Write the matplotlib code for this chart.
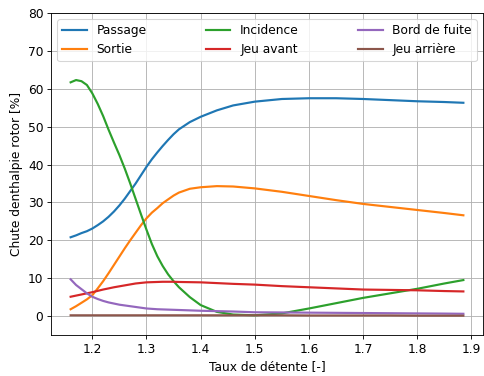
import matplotlib
matplotlib.use("Agg")
import matplotlib.pyplot as plt

plt.rcParams["font.size"] = 11.3

# pressure ratio samples
taux = [1.16, 1.17, 1.18, 1.19, 1.20, 1.21, 1.22, 1.23, 1.24, 1.25, 1.26, 1.27,
        1.28, 1.29, 1.30, 1.31, 1.32, 1.33, 1.34, 1.35, 1.36, 1.38, 1.40, 1.43,
        1.46, 1.50, 1.55, 1.60, 1.65, 1.70, 1.75, 1.80, 1.85, 1.885]

passage = [20.8, 21.3, 21.9, 22.4, 23.1, 24.0, 25.0, 26.2, 27.6, 29.2, 31.0, 33.0,
           35.0, 37.2, 39.4, 41.4, 43.2, 44.9, 46.5, 48.0, 49.3, 51.2, 52.6, 54.3,
           55.6, 56.6, 57.3, 57.5, 57.5, 57.3, 57.0, 56.7, 56.5, 56.3]
sortie = [1.8, 2.6, 3.5, 4.4, 5.5, 7.3, 9.2, 11.3, 13.5, 15.7, 17.9, 20.0,
          22.0, 24.0, 25.8, 27.3, 28.5, 29.8, 30.8, 31.8, 32.6, 33.6, 34.0, 34.3,
          34.2, 33.7, 32.8, 31.7, 30.6, 29.6, 28.8, 28.0, 27.2, 26.6]
incidence = [61.7, 62.3, 62.0, 61.0, 58.8, 56.0, 52.8, 49.2, 45.8, 42.5, 38.9, 35.0,
             30.9, 26.8, 22.8, 19.0, 15.8, 13.2, 11.0, 9.2, 7.6, 5.0, 2.9, 1.1,
             0.4, 0.2, 0.7, 2.0, 3.4, 4.8, 6.0, 7.2, 8.6, 9.5]
jeu_avant = [5.1, 5.4, 5.7, 6.0, 6.3, 6.65, 7.0, 7.3, 7.6, 7.85, 8.1, 8.35,
             8.6, 8.75, 8.9, 8.95, 9.0, 9.05, 9.05, 9.05, 9.0, 8.95, 8.9, 8.7,
             8.5, 8.3, 7.9, 7.6, 7.3, 7.0, 6.9, 6.8, 6.6, 6.5]
bord_fuite = [9.7, 8.2, 7.1, 6.0, 5.1, 4.5, 4.0, 3.6, 3.3, 3.0, 2.8, 2.6,
              2.4, 2.2, 2.0, 1.9, 1.8, 1.75, 1.7, 1.65, 1.6, 1.5, 1.4, 1.3,
              1.2, 1.0, 0.95, 0.9, 0.85, 0.8, 0.75, 0.7, 0.65, 0.6]
jeu_arriere = [0.2, 0.2, 0.2, 0.2, 0.2, 0.2, 0.2, 0.2, 0.2, 0.2, 0.2, 0.2,
               0.2, 0.2, 0.2, 0.2, 0.2, 0.2, 0.2, 0.2, 0.2, 0.2, 0.2, 0.2,
               0.2, 0.2, 0.2, 0.15, 0.15, 0.15, 0.15, 0.1, 0.1, 0.1]

series = [("Passage", passage), ("Sortie", sortie), ("Incidence", incidence),
          ("Jeu avant", jeu_avant), ("Bord de fuite", bord_fuite),
          ("Jeu arrière", jeu_arriere)]

fig = plt.figure(figsize=(484 / 78, 376 / 78), dpi=78)
ax = fig.add_axes([51 / 484, 1 - 335 / 376, 432 / 484, 322 / 376])
for name, vals in series:
    ax.plot(taux, vals, lw=2, label=name)

ax.set_ylim(-5, 80)
ax.set_yticks(range(0, 81, 10))
ax.set_xticks([1.2, 1.3, 1.4, 1.5, 1.6, 1.7, 1.8, 1.9])
ax.set_xlabel("Taux de détente [-]")
ax.set_ylabel("Chute denthalpie rotor [%]")
ax.grid(True)
ax.legend(ncol=3, mode="expand", loc="upper left")
fig.savefig("out.png", dpi=78)
